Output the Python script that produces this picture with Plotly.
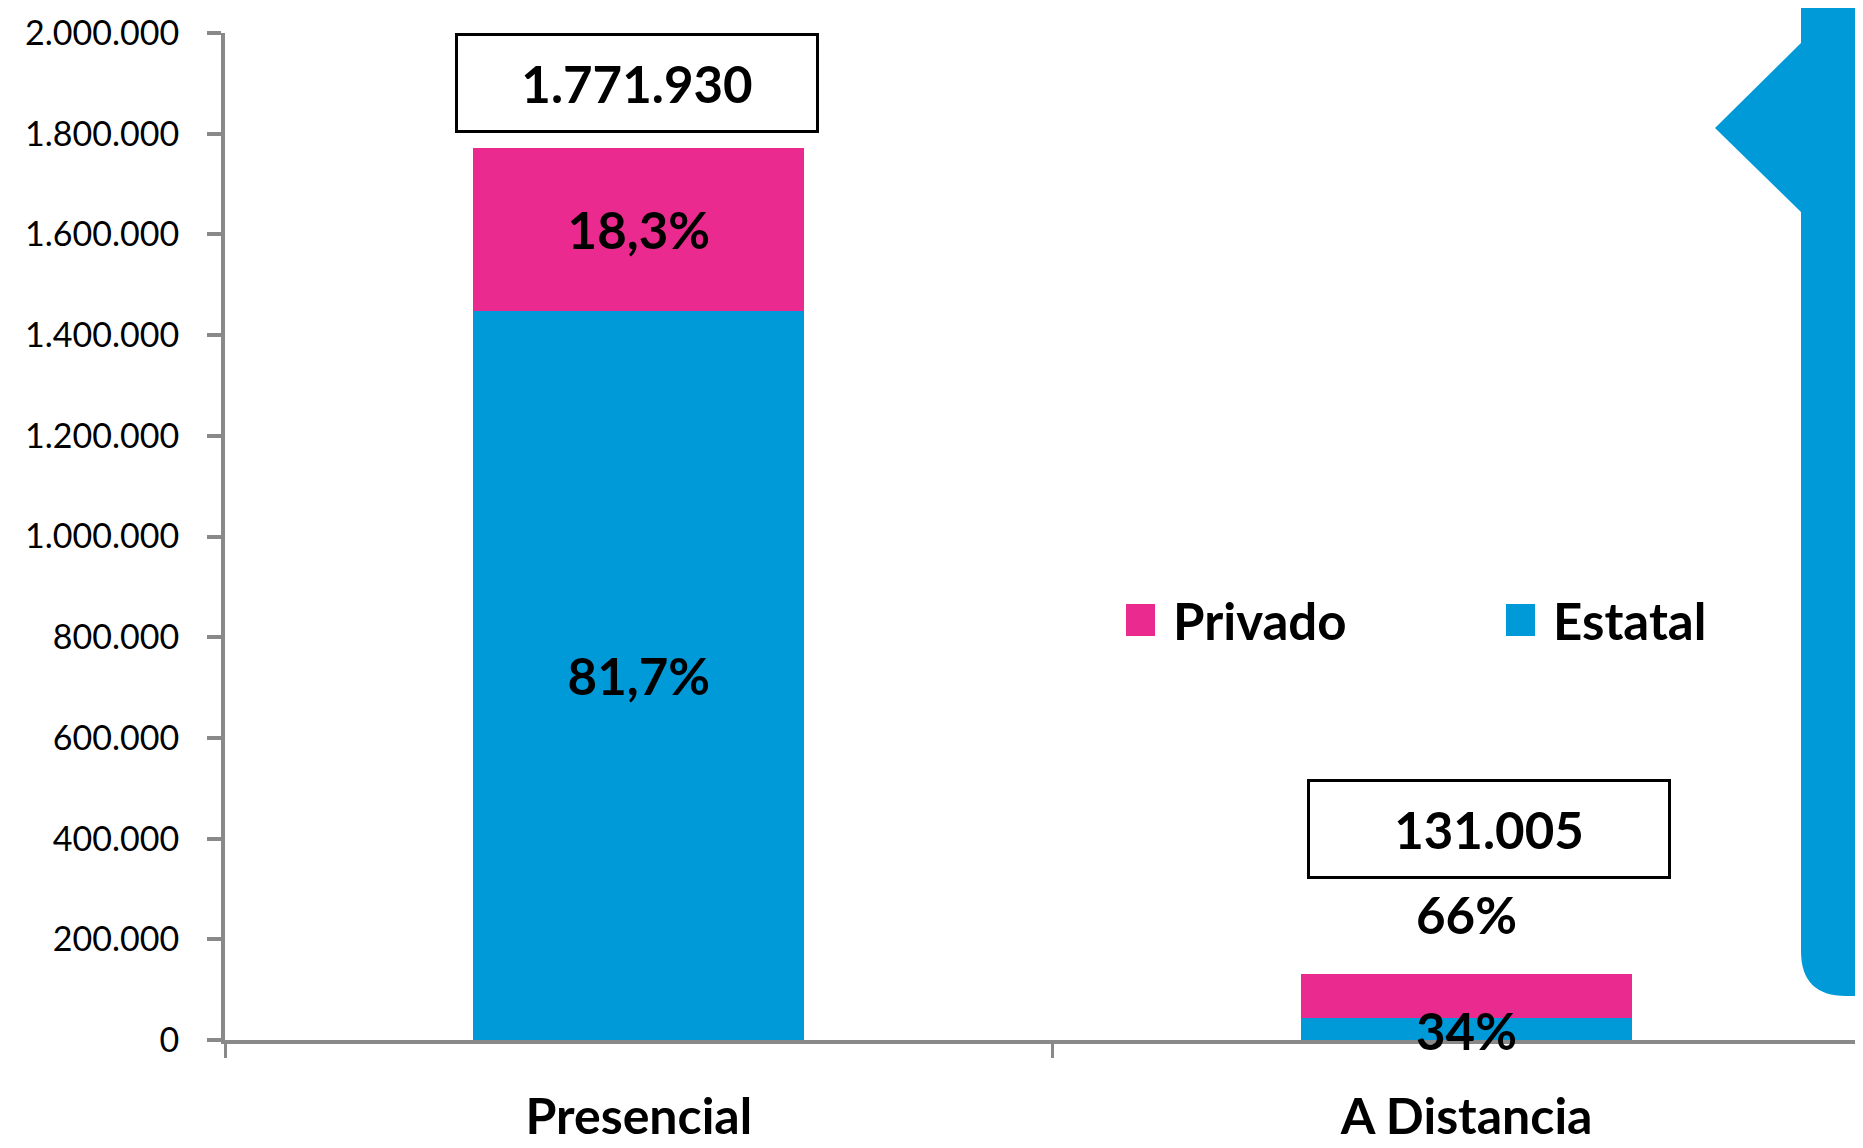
import plotly.graph_objects as go

# ---- data ----
categories = ["Presencial", "A Distancia"]
estatal = [1447667, 44542]
privado = [324263, 86463]
totals = [1771930, 131005]
total_labels = ["1.771.930", "131.005"]
estatal_labels = ["81,7%", "34%"]
privado_labels = ["18,3%", "66%"]
y_ticks = [0, 200000, 400000, 600000, 800000, 1000000, 1200000, 1400000, 1600000, 1800000, 2000000]

PINK = "#EA2A8E"
BLUE = "#009AD8"
GRAY = "#898989"
FONT = "Lato"
BOLD = "bold"
BIG = 51

OFF = 8  # page body margin
W, H = 1863 - OFF, 1148 - OFF
ML, MR, MT, MB = 217, 0, 25, 108
PW, PH = W - ML - MR, H - MT - MB


def xp(px):
    return (px - OFF - ML) / PW


def yp(py):
    return (H - MB - (py - OFF)) / PH


fig = go.Figure()
fig.add_trace(go.Bar(
    x=categories, y=estatal, name="Estatal", marker=dict(color=BLUE, line=dict(width=0)),
    text=[estatal_labels[0], ""], textposition="inside", insidetextanchor="middle",
    constraintext="none", width=0.4,
    textfont=dict(family=FONT, size=BIG, color="black", weight=BOLD),
    showlegend=False,
))
fig.add_trace(go.Bar(
    x=categories, y=privado, name="Privado", marker=dict(color=PINK, line=dict(width=0)),
    text=[privado_labels[0], ""], textposition="inside", insidetextanchor="middle",
    constraintext="none", width=0.4,
    textfont=dict(family=FONT, size=BIG, color="black", weight=BOLD),
    showlegend=False,
))

annotations = []
# total boxes
box_shifts = [65, 145]
box_xshift = [-2, 22]
for cat, tot, lab, ys, xs in zip(categories, totals, total_labels, box_shifts, box_xshift):
    annotations.append(dict(
        x=cat, y=tot, xref="x", yref="y", text=lab, showarrow=False,
        yshift=ys, xshift=xs, yanchor="middle", xanchor="center",
        font=dict(family=FONT, size=BIG, color="black", weight=BOLD),
        bordercolor="black", borderwidth=3, borderpad=4, bgcolor="white",
        width=350, height=86,
    ))
# small bar labels (A Distancia)
annotations.append(dict(
    x=categories[1], y=totals[1], xref="x", yref="y", text=privado_labels[1],
    showarrow=False, yshift=60, yanchor="middle",
    font=dict(family=FONT, size=BIG, color="black", weight=BOLD),
))
annotations.append(dict(
    x=categories[1], y=estatal[1] / 2, xref="x", yref="y", text=estatal_labels[1],
    showarrow=False, yshift=-2, yanchor="middle",
    font=dict(family=FONT, size=BIG, color="black", weight=BOLD),
))

# custom legend
legend_items = [("Privado", PINK, 1126, 1171), ("Estatal", BLUE, 1506, 1551)]
shapes = []
for name, col, sx, tx in legend_items:
    shapes.append(dict(type="rect", xref="paper", yref="paper",
                       x0=xp(sx), x1=xp(sx + 29), y0=yp(604), y1=yp(636),
                       fillcolor=col, line=dict(width=0)))
    annotations.append(dict(x=xp(tx), y=yp(620), xref="paper", yref="paper", text=name,
                            showarrow=False, xanchor="left", yanchor="middle",
                            font=dict(family=FONT, size=BIG, color="black", weight=BOLD)))

# decorative blue tab on the right
r = 45
path = (f"M {xp(1801)},{yp(-10)} L {xp(1801)},{yp(43)} L {xp(1715)},{yp(128)} "
        f"L {xp(1801)},{yp(212)} L {xp(1801)},{yp(996 - r)} "
        f"Q {xp(1801)},{yp(996)} {xp(1801 + r)},{yp(996)} "
        f"L {xp(1875)},{yp(996)} L {xp(1875)},{yp(-10)} Z")
shapes.append(dict(type="path", xref="paper", yref="paper", path=path,
                   fillcolor=BLUE, line=dict(width=0), layer="above"))

fig.update_layout(
    width=W, height=H, margin=dict(l=ML, r=MR, t=MT, b=MB, autoexpand=False),
    plot_bgcolor="white", paper_bgcolor="white",
    barmode="stack", separators=",.",
    font=dict(family=FONT, color="black"),
    annotations=annotations, shapes=shapes, showlegend=False,
)
fig.update_xaxes(
    range=[-0.5, 1.479], showline=True, linecolor=GRAY, linewidth=4,
    ticks="outside", tickson="boundaries", ticklen=14, tickwidth=3, tickcolor=GRAY,
    tickfont=dict(family=FONT, size=50, color="black", weight=BOLD),
    ticklabelstandoff=30, showgrid=False, zeroline=False, automargin=False,
)
fig.update_yaxes(
    range=[0, 2000000], tickvals=y_ticks, tickformat=",d",
    showline=True, linecolor=GRAY, linewidth=4,
    ticks="outside", ticklen=14, tickwidth=4, tickcolor=GRAY,
    tickfont=dict(family=FONT, size=34, color="black"),
    ticklabelstandoff=21, showgrid=False, zeroline=False, automargin=False,
)

fig.write_html("out.html")
